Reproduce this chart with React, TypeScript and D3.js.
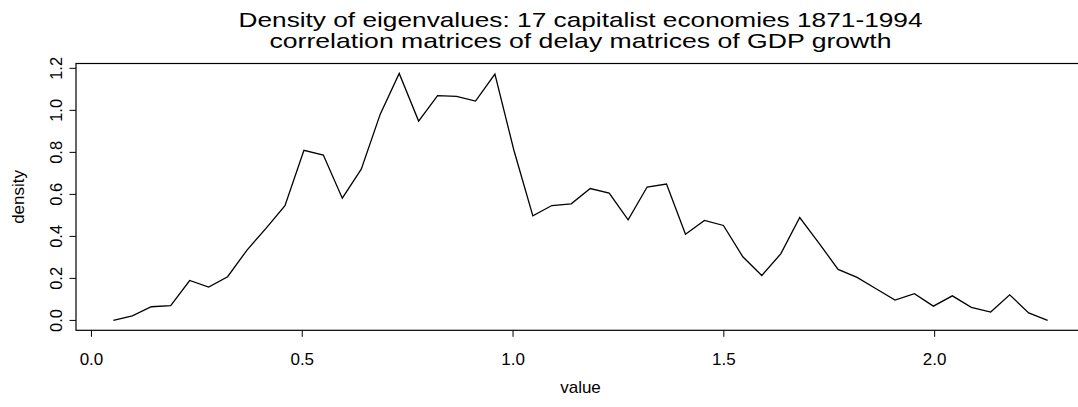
import React, { useEffect, useRef } from "react";
import * as d3 from "d3";

// eigenvalue grid (x) and estimated density (y)
const values = [
  0.052, 0.097, 0.142, 0.188, 0.233, 0.278, 0.323, 0.369, 0.414, 0.459,
  0.504, 0.55, 0.595, 0.64, 0.685, 0.73, 0.776, 0.821, 0.866, 0.911,
  0.957, 1.002, 1.047, 1.092, 1.138, 1.183, 1.228, 1.273, 1.318, 1.364,
  1.409, 1.454, 1.499, 1.545, 1.59, 1.635, 1.68, 1.726, 1.771, 1.816,
  1.861, 1.906, 1.952, 1.997, 2.042, 2.087, 2.133, 2.178, 2.223, 2.268,
];
const density = [
  0, 0.022, 0.065, 0.07, 0.19, 0.159, 0.208, 0.335, 0.438, 0.546,
  0.81, 0.787, 0.582, 0.72, 0.982, 1.176, 0.949, 1.07, 1.067, 1.044,
  1.173, 0.81, 0.498, 0.547, 0.555, 0.628, 0.606, 0.479, 0.635, 0.649,
  0.41, 0.476, 0.452, 0.303, 0.214, 0.317, 0.49, 0.367, 0.243, 0.205,
  0.151, 0.097, 0.127, 0.068, 0.117, 0.062, 0.04, 0.122, 0.036, 0,
];
const xTicks = [0, 0.5, 1.0, 1.5, 2.0];
const yTicks = [0, 0.2, 0.4, 0.6, 0.8, 1.0, 1.2];
const titleLines = [
  "Density of eigenvalues: 17 capitalist economies 1871-1994",
  "correlation matrices of delay matrices of GDP growth",
];
// measured widths of the two title lines in the reference
const titleWidths = [684, 622];

const W = 1078;
const H = 407;
const FONT = "'Liberation Sans', Arial, Helvetica, sans-serif";

// R style 4% padding of the data range
function pad(ext: [number, number]): [number, number] {
  const d = (ext[1] - ext[0]) * 0.04;
  return [ext[0] - d, ext[1] + d];
}

export default function App() {
  const ref = useRef<SVGSVGElement>(null);

  useEffect(() => {
    const svg = d3.select(ref.current);
    svg.selectAll("*").remove();

    const box = { left: 76, right: 1085, top: 63.5, bottom: 330.3 };

    const x = d3
      .scaleLinear()
      .domain(pad(d3.extent(values) as [number, number]))
      .range([box.left, box.right]);
    const y = d3
      .scaleLinear()
      .domain(pad(d3.extent(density) as [number, number]))
      .range([box.bottom, box.top]);

    // frame
    svg
      .append("rect")
      .attr("x", box.left)
      .attr("y", box.top)
      .attr("width", box.right - box.left)
      .attr("height", box.bottom - box.top)
      .attr("fill", "none")
      .attr("stroke", "#000")
      .attr("stroke-width", 1.2);

    // x axis
    const xa = svg.append("g");
    xa.selectAll("line")
      .data(xTicks)
      .join("line")
      .attr("x1", (d) => x(d))
      .attr("x2", (d) => x(d))
      .attr("y1", box.bottom)
      .attr("y2", box.bottom + 6.5)
      .attr("stroke", "#000");
    xa.selectAll("text")
      .data(xTicks)
      .join("text")
      .attr("x", (d) => x(d))
      .attr("y", 365)
      .attr("text-anchor", "middle")
      .attr("font-family", FONT)
      .attr("font-size", 17)
      .text((d) => d3.format(".1f")(d));

    // y axis
    const ya = svg.append("g");
    ya.selectAll("line")
      .data(yTicks)
      .join("line")
      .attr("x1", box.left)
      .attr("x2", box.left - 6.5)
      .attr("y1", (d) => y(d))
      .attr("y2", (d) => y(d))
      .attr("stroke", "#000");
    ya.selectAll("text")
      .data(yTicks)
      .join("text")
      .attr("transform", (d) => `translate(62,${y(d)}) rotate(-90)`)
      .attr("text-anchor", "middle")
      .attr("font-family", FONT)
      .attr("font-size", 16.5)
      .text((d) => d3.format(".1f")(d));

    // the density curve
    const line = d3
      .line<number>()
      .x((d, i) => x(values[i]))
      .y((d) => y(d));
    svg
      .append("path")
      .datum(density)
      .attr("d", line)
      .attr("fill", "none")
      .attr("stroke", "#000")
      .attr("stroke-width", 1.3)
      .attr("stroke-linejoin", "miter");

    // titles and axis labels
    const cx = (box.left + box.right) / 2;
    svg
      .selectAll(".title")
      .data(titleLines)
      .join("text")
      .attr("class", "title")
      .attr("x", cx)
      .attr("y", (d, i) => 27 + i * 21)
      .attr("text-anchor", "middle")
      .attr("font-family", FONT)
      .attr("font-size", 21)
      .attr("textLength", (d, i) => titleWidths[i])
      .attr("lengthAdjust", "spacingAndGlyphs")
      .text((d) => d);

    svg
      .append("text")
      .attr("x", cx)
      .attr("y", 393)
      .attr("text-anchor", "middle")
      .attr("font-family", FONT)
      .attr("font-size", 17)
      .text("value");

    svg
      .append("text")
      .attr("transform", `translate(24,${(box.top + box.bottom) / 2}) rotate(-90)`)
      .attr("text-anchor", "middle")
      .attr("font-family", FONT)
      .attr("font-size", 17)
      .text("density");
  }, []);

  return (
    <svg
      ref={ref}
      width={W}
      height={H}
      style={{ position: "absolute", left: 0, top: 0, background: "#fff" }}
    />
  );
}
